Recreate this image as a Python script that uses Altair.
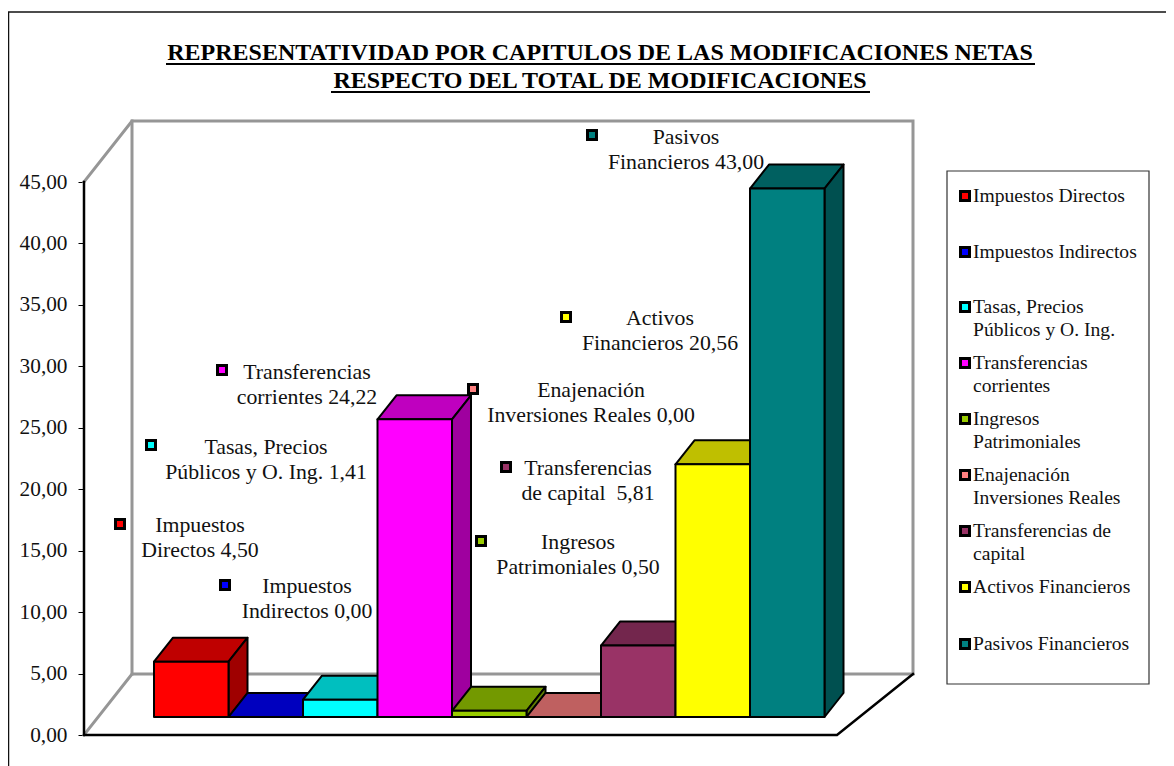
import altair as alt
import pandas as pd

CATEGORIES = ["Impuestos Directos", "Impuestos Indirectos", "Tasas, Precios\nPúblicos y O. Ing.",
              "Transferencias\ncorrientes", "Ingresos\nPatrimoniales", "Enajenación\nInversiones Reales",
              "Transferencias de\ncapital", "Activos Financieros", "Pasivos Financieros"]
VALUES = [4.50, 0.00, 1.41, 24.22, 0.50, 0.00, 5.81, 20.56, 43.00]
LABEL_HEAD = ["Impuestos\nDirectos", "Impuestos\nIndirectos", "Tasas, Precios\nPúblicos y O. Ing.",
              "Transferencias\ncorrientes", "Ingresos\nPatrimoniales", "Enajenación\nInversiones Reales",
              "Transferencias\nde capital\u00a0", "Activos\nFinancieros", "Pasivos\nFinancieros"]
FRONT = ["#FF0000", "#0000FF", "#00FFFF", "#FF00FF", "#99CC00", "#FF8080", "#993366", "#FFFF00", "#008080"]
TOP = ["#BF0000", "#0000BF", "#00BFBF", "#BF00BF", "#739900", "#BF6060", "#73264D", "#BFBF00", "#006060"]
SIDE = ["#9F0000", "#00009F", "#009F9F", "#9F009F", "#607F00", "#9F5050", "#602040", "#9F9F00", "#005050"]
TICKS = [0, 5, 10, 15, 20, 25, 30, 35, 40, 45]
TITLE = ["REPRESENTATIVIDAD POR CAPITULOS DE LAS MODIFICACIONES NETAS",
         "RESPECTO DEL TOTAL DE MODIFICACIONES"]

# layout of the manually placed data labels and the legend (page pixels; y of the first text line)
LABEL_MARKER = [(120, 524), (225, 585), (151, 445), (222, 370), (481, 541), (473, 389), (506, 467), (566, 317), (592, 135)]
LABEL_FIRST = [(200, 525), (307, 586), (266, 447), (307, 372), (578, 542), (591, 390), (588, 468), (660, 318), (686, 137)]
LEGEND_ROW = [196, 252, 307, 363, 419, 475, 531, 587, 644]

OX, OY = 8, 8                # page margin
W, H = 1158, 758             # plot size
AX_X, AX_Y = 84, 735         # page position of the axis origin
UX, UY = 74.5, 553 / 45      # pixels per category, pixels per value unit
WALL_DX, WALL_DY = 48 / UX, 61 / UY
WALL_RIGHT = (913 - AX_X) / UX
BAR_X0 = (154 - AX_X) / UX
BAR_BASE = (735 - 717) / UY
BAR_DX, BAR_DY = 19 / UX, 24 / UY
FLOOR_W = (837 - AX_X) / UX
FONT = "Liberation Serif"
TXT = "#111111"

x_scale = alt.Scale(domain=[(OX - AX_X) / UX, (OX + W - AX_X) / UX], range=[0, W], nice=False, zero=False)
y_scale = alt.Scale(domain=[(AX_Y - OY - H) / UY, (AX_Y - OY) / UY], range=[H, 0], nice=False, zero=False)
X = lambda f="x": alt.X(f"{f}:Q", scale=x_scale, axis=None)
Y = lambda f="y": alt.Y(f"{f}:Q", scale=y_scale, axis=None)


def polyline(pts, color, width):
    df = pd.DataFrame({"x": [p[0] for p in pts], "y": [p[1] for p in pts], "o": range(len(pts))})
    return alt.Chart(df).mark_line(color=color, strokeWidth=width, strokeCap="square", strokeJoin="miter").encode(
        x=X(), y=Y(), order="o:Q")


layers = []

# outer frame: only top and left edges are inside the picture
for enc in [dict(x=alt.value(0.5), y=alt.value(4), y2=alt.value(H)),
            dict(x=alt.value(0), x2=alt.value(W), y=alt.value(4))]:
    layers.append(alt.Chart(pd.DataFrame({"a": [0]})).mark_rule(color="#111111", strokeWidth=1.5).encode(**enc))

# y axis, carrying the value scale
layers.append(alt.Chart(pd.DataFrame({"t": TICKS})).mark_point(opacity=0).encode(
    x=alt.value(AX_X - OX),
    y=alt.Y("t:Q", scale=y_scale, axis=alt.Axis(
        values=TICKS, title=None, domain=False, grid=False, offset=OX - AX_X, tickSize=6, tickColor="#000000",
        tickWidth=1, labelPadding=11, labelFont=FONT, labelFontSize=21.3, labelColor=TXT,
        labelExpr="replace(format(datum.value, '.2f'), '.', ',')"))))

# walls
GRAY = "#969696"
layers.append(polyline([(0, 45), (WALL_DX, 45 + WALL_DY), (WALL_RIGHT, 45 + WALL_DY), (WALL_RIGHT, WALL_DY),
                        (WALL_DX, WALL_DY), (0, 0)], GRAY, 3))
layers.append(polyline([(WALL_DX, 45 + WALL_DY), (WALL_DX, WALL_DY)], GRAY, 3))
layers.append(polyline([(0, 45), (0, 0), (FLOOR_W, 0), (WALL_RIGHT, WALL_DY)], "#000000", 2.5))

# bars, painted back to front: top, side, front
for i, v in enumerate(VALUES):
    x0, x1 = BAR_X0 + i, BAR_X0 + i + 1
    y0, y1 = BAR_BASE, BAR_BASE + v
    common = dict(stroke="#000000", strokeWidth=2, strokeJoin="round")
    top = pd.DataFrame({"y": [y1, y1 + BAR_DY], "a": [x0, x0 + BAR_DX], "b": [x1, x1 + BAR_DX]})
    layers.append(alt.Chart(top).mark_area(orient="horizontal", color=TOP[i], **common).encode(
        y=Y(), x=X("a"), x2="b:Q"))
    side = pd.DataFrame({"x": [x1, x1 + BAR_DX], "a": [y0, y0 + BAR_DY], "b": [y1, y1 + BAR_DY]})
    layers.append(alt.Chart(side).mark_area(orient="vertical", color=SIDE[i], **common).encode(
        x=X(), y=Y("a"), y2="b:Q"))
    front = pd.DataFrame({"a": [x0], "b": [x1], "c": [y0], "d": [y1]})
    layers.append(alt.Chart(front).mark_rect(color=FRONT[i], **common).encode(
        x=X("a"), x2="b:Q", y=Y("c"), y2="d:Q"))

# data labels
fmt = lambda v: f"{v:.2f}".replace(".", ",")
labels = pd.DataFrame({
    "text": [f"{h} {fmt(v)}" for h, v in zip(LABEL_HEAD, VALUES)],
    "px": [c[0] - OX for c in LABEL_FIRST],
    "py": [c[1] - OY for c in LABEL_FIRST],
    "mx": [m[0] - OX for m in LABEL_MARKER],
    "my": [m[1] - OY for m in LABEL_MARKER],
    "color": FRONT,
})
layers.append(alt.Chart(labels).mark_text(font=FONT, fontSize=21.8, color=TXT, align="center", baseline="middle",
                                          lineBreak="\n", lineHeight=24.5).encode(
    x=alt.X("px:Q", scale=None), y=alt.Y("py:Q", scale=None), text="text:N"))
layers.append(alt.Chart(labels).mark_point(shape="square", filled=True, size=81, stroke="#000000", strokeWidth=3, opacity=1).encode(
    x=alt.X("mx:Q", scale=None), y=alt.Y("my:Q", scale=None),
    fill=alt.Fill("color:N", scale=None)))

# legend
layers.append(alt.Chart(pd.DataFrame({"a": [0]})).mark_rect(fill="#FFFFFF", stroke="#333333", strokeWidth=1.2).encode(
    x=alt.value(947 - OX), x2=alt.value(1149 - OX), y=alt.value(171 - OY), y2=alt.value(684 - OY)))
legend = pd.DataFrame({
    "text": CATEGORIES,
    "ty": [r - OY for r in LEGEND_ROW],
    "my": [r - OY for r in LEGEND_ROW],
    "color": FRONT,
})
layers.append(alt.Chart(legend).mark_text(font=FONT, fontSize=19.6, color=TXT, align="left", baseline="middle",
                                          lineBreak="\n", lineHeight=22.5).encode(
    x=alt.value(973 - OX), y=alt.Y("ty:Q", scale=None), text="text:N"))
layers.append(alt.Chart(legend).mark_point(shape="square", filled=True, size=81, stroke="#000000", strokeWidth=3, opacity=1).encode(
    x=alt.value(965 - OX), y=alt.Y("my:Q", scale=None), fill=alt.Fill("color:N", scale=None)))

# title underlines
for (a, b, yy) in [(166, 1035, 64), (331, 870, 92)]:
    layers.append(alt.Chart(pd.DataFrame({"a": [0]})).mark_rule(color="#000000", strokeWidth=2).encode(
        x=alt.value(a - OX), x2=alt.value(b - OX), y=alt.value(yy - OY)))

chart = alt.layer(*layers).resolve_axis(y="independent").properties(
    width=W, height=H, padding=0,
    autosize=alt.AutoSizeParams(type="none"),
    title=alt.TitleParams(text=TITLE, font=FONT, fontSize=24, fontWeight="bold", color="#000000",
                          anchor="middle", frame="group", baseline="alphabetic", lineHeight=28,
                          offset=-104, dx=13),
).configure_view(strokeWidth=0)

chart.save("out.html", embed_options={"renderer": "svg", "actions": False})
